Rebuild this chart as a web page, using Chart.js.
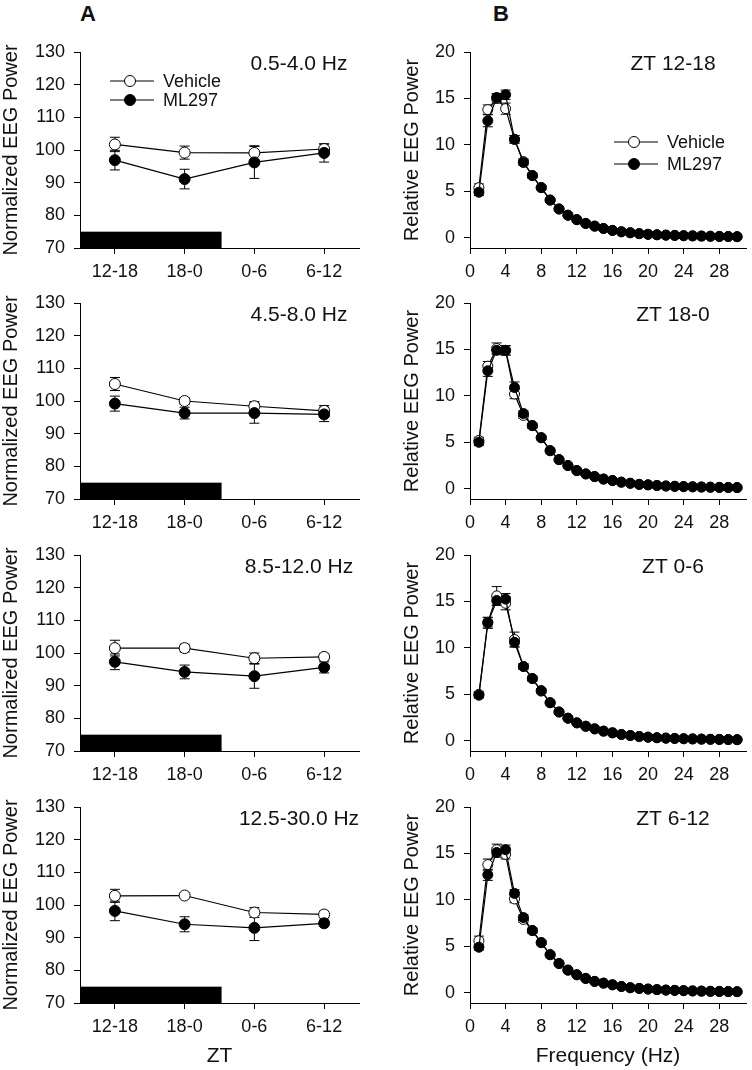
<!DOCTYPE html>
<html>
<head>
<meta charset="utf-8">
<script src="https://cdn.jsdelivr.net/npm/chart.js@4.4.0/dist/chart.umd.min.js"></script>
<style>
  body { margin: 0; background: #fff; }
  #page { position: relative; width: 752px; height: 1070px; overflow: hidden; background: #fff; }
  #page canvas { position: absolute; }
  .tag { position: absolute; font: bold 22px "Liberation Sans", Arial, sans-serif; color: #111; }
</style>
</head>
<body>
<div id="page">
  <div class="tag" style="left:80px; top:1px;">A</div>
  <div class="tag" style="left:493px; top:1px;">B</div>
</div>
<script>
// ---- column A: normalized band power per ZT quarter ----
var ztLabels = ['12-18', '18-0', '0-6', '6-12'];
var darkPeriod = [-0.5, 1.53];   // in category units, ZT 12-0
var darkLevel = [70, 75];

var deltaVeh = [101.7, 99.2, 99.1, 100.3];
var deltaVehErr = [2.2, 2.0, 2.2, 1.5];
var deltaMl = [96.9, 91.1, 96.2, 99.1];
var deltaMlErr = [3.0, 3.0, 4.9, 2.8];

var thetaVeh = [105.2, 100.0, 98.4, 97.0];
var thetaVehErr = [2.0, 1.0, 1.4, 1.6];
var thetaMl = [99.2, 96.3, 96.3, 95.9];
var thetaMlErr = [2.3, 1.8, 3.1, 2.2];

var alphaVeh = [101.5, 101.5, 98.4, 98.8];
var alphaVehErr = [2.4, 1.2, 1.6, 1.0];
var alphaMl = [97.3, 94.2, 92.9, 95.6];
var alphaMlErr = [2.4, 2.1, 3.7, 1.7];

var betaVeh = [102.8, 102.9, 97.7, 97.1];
var betaVehErr = [2.0, 0.8, 1.5, 1.0];
var betaMl = [98.2, 94.1, 93.0, 94.4];
var betaMlErr = [3.0, 2.3, 3.9, 1.0];

// ---- column B: relative spectra, 1-30 Hz ----
var freqHz = [1, 2, 3, 4, 5, 6, 7, 8, 9, 10, 11, 12, 13, 14, 15, 16, 17, 18, 19, 20, 21, 22, 23, 24, 25, 26, 27, 28, 29, 30];

var zt1218Veh = [5.4, 13.8, 15.0, 13.9, 10.6, 8.2, 6.7, 5.4, 4.07, 3.1, 2.43, 1.96, 1.54, 1.25, 1.0, 0.79, 0.64, 0.54, 0.45, 0.38, 0.33, 0.29, 0.26, 0.23, 0.21, 0.19, 0.17, 0.15, 0.14, 0.12];
var zt1218VehErr = [0.4, 0.5, 0.5, 0.6, 0.4, 0.3, 0.25, 0.2, 0.15, 0.1, 0.08, 0.06, 0.05, 0, 0, 0, 0, 0, 0, 0, 0, 0, 0, 0, 0, 0, 0, 0, 0, 0];
var zt1218Ml = [4.9, 12.6, 15.1, 15.4, 10.6, 8.1, 6.7, 5.4, 4.05, 3.1, 2.43, 1.95, 1.55, 1.26, 1.0, 0.8, 0.65, 0.54, 0.44, 0.37, 0.32, 0.28, 0.25, 0.22, 0.2, 0.18, 0.16, 0.14, 0.13, 0.12];
var zt1218MlErr = [0.35, 0.65, 0.4, 0.5, 0.4, 0.3, 0.25, 0.2, 0.15, 0.1, 0.08, 0.06, 0.05, 0, 0, 0, 0, 0, 0, 0, 0, 0, 0, 0, 0, 0, 0, 0, 0, 0];

var zt180Veh = [5.2, 13.2, 15.1, 14.9, 10.2, 7.9, 6.8, 5.5, 4.1, 3.14, 2.5, 1.96, 1.6, 1.32, 1.05, 0.9, 0.72, 0.6, 0.48, 0.43, 0.36, 0.3, 0.27, 0.24, 0.21, 0.19, 0.17, 0.15, 0.14, 0.13];
var zt180VehErr = [0.35, 0.5, 0.6, 0.5, 0.5, 0.3, 0.25, 0.2, 0.15, 0.1, 0.08, 0.06, 0.05, 0, 0, 0, 0, 0, 0, 0, 0, 0, 0, 0, 0, 0, 0, 0, 0, 0];
var zt180Ml = [5.0, 12.7, 14.9, 14.9, 10.9, 8.1, 6.8, 5.5, 4.1, 3.14, 2.5, 1.96, 1.6, 1.31, 1.04, 0.88, 0.71, 0.59, 0.47, 0.42, 0.35, 0.3, 0.26, 0.23, 0.21, 0.19, 0.17, 0.15, 0.14, 0.13];
var zt180MlErr = [0.35, 0.6, 0.4, 0.5, 0.6, 0.3, 0.25, 0.2, 0.15, 0.1, 0.08, 0.06, 0.05, 0, 0, 0, 0, 0, 0, 0, 0, 0, 0, 0, 0, 0, 0, 0, 0, 0];

var zt06Veh = [5.0, 12.75, 15.6, 14.8, 10.9, 8.0, 6.7, 5.35, 4.1, 3.1, 2.43, 1.93, 1.57, 1.29, 1.04, 0.86, 0.68, 0.57, 0.46, 0.39, 0.33, 0.29, 0.25, 0.22, 0.2, 0.18, 0.16, 0.15, 0.13, 0.12];
var zt06VehErr = [0.3, 0.5, 1.0, 0.7, 0.8, 0.3, 0.25, 0.25, 0.15, 0.1, 0.08, 0.06, 0.05, 0, 0, 0, 0, 0, 0, 0, 0, 0, 0, 0, 0, 0, 0, 0, 0, 0];
var zt06Ml = [4.9, 12.7, 15.1, 15.25, 10.6, 8.0, 6.7, 5.4, 4.1, 3.1, 2.43, 1.93, 1.56, 1.28, 1.04, 0.85, 0.68, 0.56, 0.46, 0.39, 0.33, 0.28, 0.25, 0.22, 0.2, 0.18, 0.16, 0.14, 0.13, 0.12];
var zt06MlErr = [0.3, 0.6, 0.5, 0.6, 0.5, 0.3, 0.25, 0.2, 0.15, 0.1, 0.08, 0.06, 0.05, 0, 0, 0, 0, 0, 0, 0, 0, 0, 0, 0, 0, 0, 0, 0, 0, 0];

var zt612Veh = [5.6, 13.8, 15.4, 14.9, 10.1, 7.9, 6.7, 5.4, 4.1, 3.15, 2.44, 1.94, 1.54, 1.22, 1.04, 0.86, 0.68, 0.54, 0.47, 0.4, 0.34, 0.29, 0.26, 0.23, 0.2, 0.18, 0.16, 0.15, 0.13, 0.12];
var zt612VehErr = [0.5, 0.6, 0.6, 0.5, 0.4, 0.3, 0.25, 0.2, 0.15, 0.1, 0.08, 0.06, 0.05, 0, 0, 0, 0, 0, 0, 0, 0, 0, 0, 0, 0, 0, 0, 0, 0, 0];
var zt612Ml = [4.9, 12.7, 15.1, 15.4, 10.7, 8.1, 6.7, 5.4, 4.1, 3.15, 2.44, 1.94, 1.55, 1.23, 1.04, 0.86, 0.68, 0.55, 0.47, 0.4, 0.34, 0.29, 0.26, 0.23, 0.2, 0.18, 0.16, 0.14, 0.13, 0.12];
var zt612MlErr = [0.3, 0.6, 0.5, 0.5, 0.4, 0.3, 0.25, 0.2, 0.15, 0.1, 0.08, 0.06, 0.05, 0, 0, 0, 0, 0, 0, 0, 0, 0, 0, 0, 0, 0, 0, 0, 0, 0];

var bandPanels = [
  { label: '0.5-4.0 Hz', veh: deltaVeh, vehErr: deltaVehErr, ml: deltaMl, mlErr: deltaMlErr, legend: true },
  { label: '4.5-8.0 Hz', veh: thetaVeh, vehErr: thetaVehErr, ml: thetaMl, mlErr: thetaMlErr },
  { label: '8.5-12.0 Hz', veh: alphaVeh, vehErr: alphaVehErr, ml: alphaMl, mlErr: alphaMlErr },
  { label: '12.5-30.0 Hz', veh: betaVeh, vehErr: betaVehErr, ml: betaMl, mlErr: betaMlErr }
];
var specPanels = [
  { label: 'ZT 12-18', veh: zt1218Veh, vehErr: zt1218VehErr, ml: zt1218Ml, mlErr: zt1218MlErr, legend: true },
  { label: 'ZT 18-0', veh: zt180Veh, vehErr: zt180VehErr, ml: zt180Ml, mlErr: zt180MlErr },
  { label: 'ZT 0-6', veh: zt06Veh, vehErr: zt06VehErr, ml: zt06Ml, mlErr: zt06MlErr },
  { label: 'ZT 6-12', veh: zt612Veh, vehErr: zt612VehErr, ml: zt612Ml, mlErr: zt612MlErr }
];

var FONT = '"Liberation Sans", Arial, sans-serif';
var INK = '#111';
var rowTops = [52, 303, 555, 807];

// error bars go under the markers
var errorBars = {
  id: 'errorBars',
  beforeDatasetsDraw: function (chart) {
    var ctx = chart.ctx, yScale = chart.scales.y;
    ctx.save();
    ctx.strokeStyle = '#000';
    ctx.lineWidth = 1;
    chart.data.datasets.forEach(function (ds, d) {
      var meta = chart.getDatasetMeta(d);
      (ds.errors || []).forEach(function (e, i) {
        if (!e) return;
        var raw = ds.data[i];
        var v = typeof raw === 'object' ? raw.y : raw;
        var x = meta.data[i].x;
        var hi = yScale.getPixelForValue(v + e), lo = yScale.getPixelForValue(v - e);
        ctx.beginPath();
        ctx.moveTo(x, hi); ctx.lineTo(x, lo);
        ctx.moveTo(x - 5, hi); ctx.lineTo(x + 5, hi);
        ctx.moveTo(x - 5, lo); ctx.lineTo(x + 5, lo);
        ctx.stroke();
      });
    });
    ctx.restore();
  }
};

// dark bar, panel caption and the little legend
var panelDecor = {
  id: 'panelDecor',
  beforeDatasetsDraw: function (chart, args, o) {
    if (!o.dark) return;
    var ctx = chart.ctx, xs = chart.scales.x, ys = chart.scales.y;
    var x0 = xs.getPixelForValue(darkPeriod[0]), x1 = xs.getPixelForValue(darkPeriod[1]);
    var y0 = ys.getPixelForValue(darkLevel[1]), y1 = ys.getPixelForValue(darkLevel[0]);
    ctx.save();
    ctx.fillStyle = '#000';
    ctx.fillRect(x0, y0, x1 - x0, y1 - y0);
    ctx.restore();
  },
  afterDraw: function (chart, args, o) {
    var ctx = chart.ctx, a = chart.chartArea;
    ctx.save();
    ctx.fillStyle = INK;
    ctx.font = '21px ' + FONT;
    ctx.textAlign = 'center';
    ctx.textBaseline = 'middle';
    ctx.fillText(o.label, a.left + o.labelX, a.top + 12);
    if (o.legend) {
      var rows = [['Vehicle', '#fff'], ['ML297', '#000']];
      ctx.font = '18px ' + FONT;
      ctx.textAlign = 'left';
      rows.forEach(function (r, k) {
        var y = a.top + o.legY + k * o.legGap;
        ctx.strokeStyle = '#000';
        ctx.lineWidth = 1.2;
        ctx.beginPath();
        ctx.moveTo(a.left + o.legX, y); ctx.lineTo(a.left + o.legX + 44, y);
        ctx.stroke();
        ctx.beginPath();
        ctx.arc(a.left + o.legX + 20, y, 5.5, 0, Math.PI * 2);
        ctx.fillStyle = r[1];
        ctx.fill();
        ctx.lineWidth = 1;
        ctx.stroke();
        ctx.fillStyle = INK;
        ctx.fillText(r[0], a.left + o.legX + 53, y + 1);
      });
    }
    ctx.restore();
  }
};

function axisBase(size) {
  return {
    border: { display: true, color: '#000', width: 1 },
    grid: { display: true, drawOnChartArea: false, drawTicks: true, tickLength: 6, color: '#000' },
    ticks: { color: INK, font: { family: FONT, size: size } }
  };
}

function seriesPair(veh, vehErr, ml, mlErr, toPoints, r) {
  return [
    { label: 'ML297', data: toPoints(ml), errors: mlErr, order: 0,
      borderColor: '#000', borderWidth: 1.2, pointRadius: r, pointBackgroundColor: '#000',
      pointBorderColor: '#000', pointBorderWidth: 1, fill: false, tension: 0, clip: false },
    { label: 'Vehicle', data: toPoints(veh), errors: vehErr, order: 1,
      borderColor: '#000', borderWidth: 1.2, pointRadius: r, pointBackgroundColor: '#fff',
      pointBorderColor: '#000', pointBorderWidth: 1, fill: false, tension: 0, clip: false }
  ];
}

function addCanvas(left, top, w, h) {
  var c = document.createElement('canvas');
  c.width = w; c.height = h;
  c.style.left = left + 'px'; c.style.top = top + 'px';
  c.style.width = w + 'px'; c.style.height = h + 'px';
  document.getElementById('page').appendChild(c);
  return c;
}

function makeBandChart(r, p) {
  var last = r === 3;
  var top = rowTops[r] - 40;
  var h = last ? 1070 - top : 270;
  var c = addCanvas(0, top, 376, h);
  var x = axisBase(18);
  x.type = 'category';
  x.offset = true;
  x.ticks.padding = 7;
  x.title = { display: last, text: 'ZT', color: INK, font: { family: FONT, size: 21 }, padding: { top: 0, bottom: 1 } };
  x.afterFit = function (s) { s.height = h - 40 - 196; };
  var y = axisBase(18);
  y.min = 70; y.max = 130;
  y.ticks.stepSize = 10;
  y.ticks.padding = 9;
  y.title = { display: true, text: 'Normalized EEG Power', color: INK, font: { family: FONT, size: 20 }, padding: { top: -1, bottom: 0 } };
  y.afterFit = function (s) { s.width = 80; };
  new Chart(c, {
    type: 'line',
    data: { labels: ztLabels, datasets: seriesPair(p.veh, p.vehErr, p.ml, p.mlErr, function (a) { return a.slice(); }, 5.5) },
    options: {
      responsive: false, animation: false, devicePixelRatio: 1,
      layout: { padding: { left: 0, right: 17, top: 40, bottom: 0 } },
      scales: { x: x, y: y },
      plugins: {
        legend: { display: false }, tooltip: { enabled: false },
        panelDecor: { label: p.label, labelX: 219, dark: true, legend: !!p.legend, legX: 30, legY: 29, legGap: 19 }
      }
    },
    plugins: [errorBars, panelDecor]
  });
}

function makeSpecChart(r, p) {
  var last = r === 3;
  var top = rowTops[r] - 40;
  var h = last ? 1070 - top : 270;
  var c = addCanvas(376, top, 376, h);
  var x = axisBase(18);
  x.type = 'linear';
  x.min = 0; x.max = 31;
  x.ticks.stepSize = 4;
  x.ticks.includeBounds = false;
  x.ticks.padding = 7;
  x.title = { display: last, text: 'Frequency (Hz)', color: INK, font: { family: FONT, size: 21 }, padding: { top: 0, bottom: 1 } };
  x.afterFit = function (s) { s.height = h - 40 - 196; };
  var y = axisBase(18);
  y.min = -1.1; y.max = 20;
  y.ticks.stepSize = 5;
  y.ticks.includeBounds = false;
  y.ticks.padding = 9;
  y.title = { display: true, text: 'Relative EEG Power', color: INK, font: { family: FONT, size: 20 }, padding: { top: 0, bottom: 0 } };
  y.afterFit = function (s) { s.width = 70; };
  var toPoints = function (a) { return freqHz.map(function (f, i) { return { x: f, y: a[i] }; }); };
  new Chart(c, {
    type: 'line',
    data: { datasets: seriesPair(p.veh, p.vehErr, p.ml, p.mlErr, toPoints, 5) },
    options: {
      responsive: false, animation: false, devicePixelRatio: 1,
      layout: { padding: { left: 24, right: 3, top: 40, bottom: 0 } },
      scales: { x: x, y: y },
      plugins: {
        legend: { display: false }, tooltip: { enabled: false },
        panelDecor: { label: p.label, labelX: 203, dark: false, legend: !!p.legend, legX: 144, legY: 90, legGap: 22 }
      }
    },
    plugins: [errorBars, panelDecor]
  });
}

bandPanels.forEach(function (p, r) { makeBandChart(r, p); });
specPanels.forEach(function (p, r) { makeSpecChart(r, p); });
</script>
</body>
</html>
